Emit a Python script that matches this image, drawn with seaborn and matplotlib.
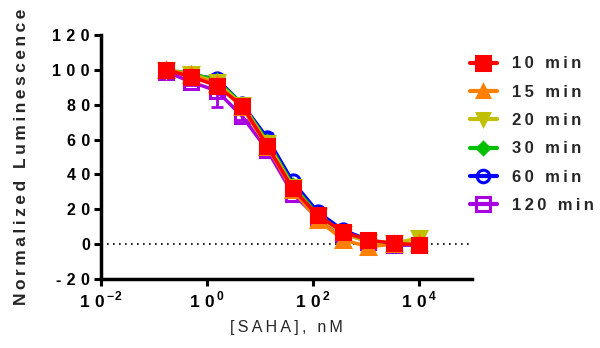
import matplotlib
matplotlib.use("Agg")
import matplotlib.pyplot as plt
import seaborn as sns
import numpy as np
import pandas as pd
from matplotlib.lines import Line2D

sns.set_style("white")
plt.rcParams['font.family'] = ['Liberation Sans', 'DejaVu Sans']
plt.rcParams['mathtext.fontset'] = 'custom'
plt.rcParams['mathtext.bf'] = 'Liberation Sans:bold'
plt.rcParams['mathtext.rm'] = 'Liberation Sans'

# ---- data ----
conc_nM = [0.169, 0.508, 1.52, 4.57, 13.7, 41.2, 123, 370, 1111, 3333, 10000]
series_names = ["10 min", "15 min", "20 min", "30 min", "60 min", "120 min"]
v10 = [100, 96, 91, 79.5, 56.5, 32, 16.5, 7, 2.3, 0.5, -0.5]
v15 = [100, 97, 92, 78.5, 56, 31, 14, 2.5, -1.5, 0, 0.5]
v20 = [100, 97.5, 93, 80, 58, 33, 16, 6, 1.5, 0.5, 3.5]
v30 = [100, 98, 94, 80.5, 59, 34, 17, 6.5, 2, 0.5, 0]
v60 = [100, 97, 95, 80.5, 61, 36, 18.5, 8, 2.5, -0.5, 0]
v120 = [99, 93, 88, 73.5, 54, 29, 15, 6, 1.5, -0.5, -0.5]
err120 = [1, 1.5, 9.5, 2, 1.5, 1, 1, 0.5, 0.5, 0.5, 0.5]
err60 = [1.5, 1, 1.5, 1, 2.5, 1, 1, 0.5, 0.5, 0.5, 0.5]
yticks = [-20, 0, 20, 40, 60, 80, 100, 120]
xticks = [1e-2, 1e0, 1e2, 1e4]
xtick_exps = ["-2", "0", "2", "4"]

values = [v10, v15, v20, v30, v60, v120]
colors = ["#FF0000", "#FF8000", "#C0C000", "#00C000", "#0000FF", "#A800E0"]
markers = ["s", "^", "v", "D", "o", "s"]
filled = [True, True, True, True, False, False]
msizes = [10, 9.5, 9.5, 6.5, 9.5, 10]


def sp(s, gap="\u2009"):
    return gap.join(s)


fig = plt.figure(figsize=(6, 3.48), dpi=100)
ax = fig.add_axes([101 / 600, 1 - 279 / 348, (472 - 101) / 600, (279 - 35) / 348])

df = pd.DataFrame({
    "conc": np.tile(conc_nM, len(series_names)),
    "value": np.concatenate(values),
    "series": np.repeat(series_names, len(conc_nM)),
})

ax.axhline(0, color="black", lw=1.2, ls=(0, (1, 2.6)), zorder=1)

# errors
ax.errorbar(conc_nM, v120, yerr=err120, fmt="none", ecolor=colors[5], elinewidth=2,
            capsize=4.5, capthick=2, zorder=2)
ax.errorbar(conc_nM, v60, yerr=err60, fmt="none", ecolor=colors[4], elinewidth=2,
            capsize=4.5, capthick=2, zorder=3)

order = [5, 4, 3, 2, 1, 0]
for z, i in enumerate(order):
    name = series_names[i]
    sub = df[df["series"] == name]
    sns.lineplot(data=sub, x="conc", y="value", ax=ax, color=colors[i], lw=2.5,
                 marker=markers[i], markersize=msizes[i], markeredgewidth=2.2,
                 markeredgecolor=colors[i],
                 markerfacecolor=colors[i] if filled[i] else "none",
                 zorder=4 + z, legend=False)

handles = []
for i, name in enumerate(series_names):
    handles.append(Line2D([0], [0], color=colors[i], lw=3, marker=markers[i],
                          markersize=msizes[i] * 0.95, markeredgewidth=2.2,
                          markeredgecolor=colors[i],
                          markerfacecolor=colors[i] if filled[i] else "none",
                          label=sp(name)))

ax.set_xscale("log")
ax.set_xlim(1e-2, 1e5)
ax.set_ylim(-20, 120)
ax.set_yticks(yticks)
ax.set_yticklabels([sp(str(t), "\u2004") for t in yticks], fontsize=11.5, fontweight="bold")
ax.set_xticks(xticks)
ax.set_xticklabels([r"${\mathbf{1}\ \mathbf{0}\,}^{\mathbf{" + e + "}}$" for e in xtick_exps],
                   fontsize=12.5)
ax.xaxis.set_minor_locator(matplotlib.ticker.NullLocator())

for s in ["top", "right"]:
    ax.spines[s].set_visible(False)
for s in ["left", "bottom"]:
    ax.spines[s].set_linewidth(2.5)
    ax.spines[s].set_color("black")
ax.tick_params(axis="both", which="major", direction="out", length=5, width=2.2,
               color="black", pad=3, labelcolor="black", left=True, bottom=True)

ax.set_xlabel(sp("[SAHA], nM"), fontsize=11.5, labelpad=7)
ax.set_ylabel(sp("Normalized Luminescence"), fontsize=12.5, fontweight="bold")
ax.yaxis.set_label_coords(-0.194, 0.5)

leg = ax.legend(handles=handles, loc="upper left", bbox_to_anchor=(0.9946, 0.912),
                frameon=False, prop={"weight": "bold", "size": 12},
                handlelength=1.6, handletextpad=0.9, labelspacing=0.8,
                borderaxespad=0, borderpad=0)

fig.savefig("out.png", dpi=100)
